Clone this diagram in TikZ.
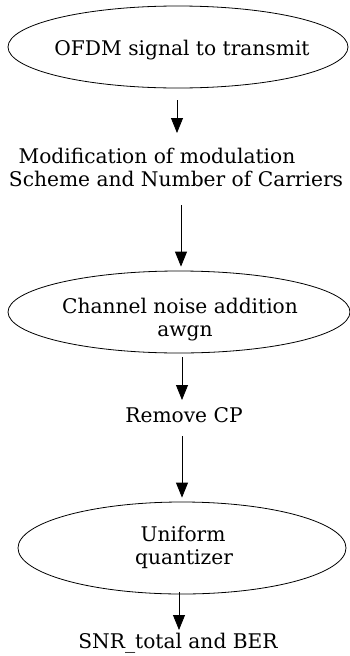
\documentclass[tikz,border=0pt]{standalone}
\usepackage{fontspec}
\setmainfont{DejaVu Serif}
\usetikzlibrary{shapes.geometric,arrows.meta}
\begin{document}
\begin{tikzpicture}[x=1pt,y=-1pt,
  txt/.style={font=\fontsize{20.2}{24}\selectfont, inner sep=0pt, anchor=base},
  oval/.style={draw, ellipse, line width=0.8pt, inner sep=0pt},
  arr/.style={-{Triangle[length=15pt,width=12pt]}, line width=0.8pt}]
\useasboundingbox (0,0) rectangle (349,656);
% ellipses
\node[oval, minimum width=340pt, minimum height=82pt] (ofdm) at (178,47) {};
\node[oval, minimum width=342pt, minimum height=82pt] (chan) at (179,312) {};
\node[oval, minimum width=328pt, minimum height=92pt] (unif) at (182,548) {};
% texts
\node[txt] (ofdmT) at (182,55) {OFDM signal to transmit};
\node[txt] (mod1) at (157,163) {Modification of modulation};
\node[txt] (mod2) at (176,186) {Scheme and Number of Carriers};
\node[txt] (chanT1) at (180,313) {Channel noise addition};
\node[txt] (chanT2) at (185,336) {awgn};
\node[txt] (rcp) at (184,422) {Remove CP};
\node[txt] (unifT1) at (183,541) {Uniform};
\node[txt] (unifT2) at (184,564) {quantizer};
\node[txt] (snr) at (178,648) {SNR\_total and BER};
% connectors
\draw[arr] ([shift={(-1,12)}]ofdm.south) -- ([xshift=20pt]mod1.north |- 0,133);
\draw[arr] ([xshift=5pt]mod2.south |- 0,205) -- ([shift={(2,-4)}]chan.north);
\draw[arr] ([shift={(3,4)}]chan.south) -- ([xshift=-2pt]rcp.north |- 0,400);
\draw[arr] ([xshift=-2pt]rcp.south |- 0,436) -- ([shift={(0,-4)}]unif.north);
\draw[arr] ([shift={(-3,-2)}]unif.south) -- ([xshift=1pt]snr.north |- 0,630);
\end{tikzpicture}
\end{document}
